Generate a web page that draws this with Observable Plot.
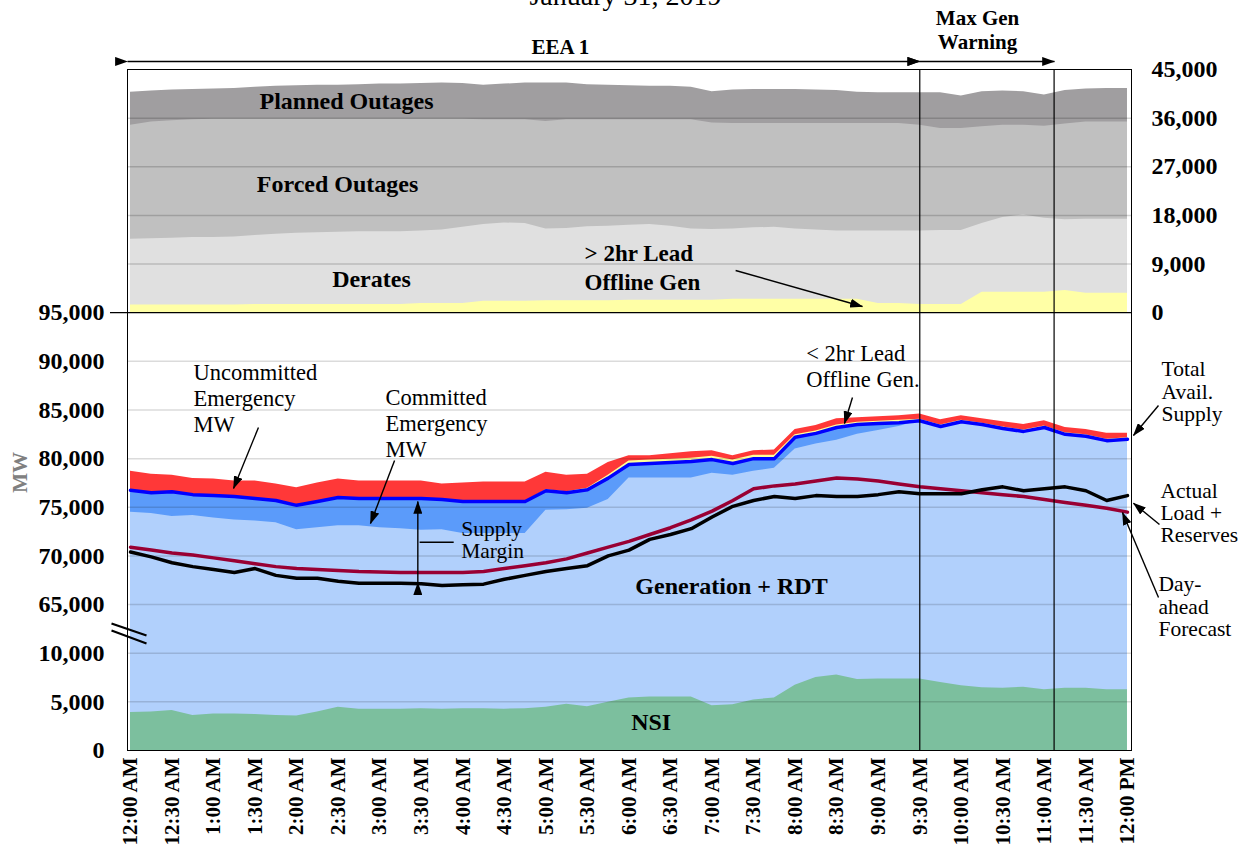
<!DOCTYPE html>
<html><head><meta charset="utf-8">
<script src="https://cdn.jsdelivr.net/npm/d3@7"></script>
<script src="https://cdn.jsdelivr.net/npm/@observablehq/plot@0.6"></script>
<style>
html,body{margin:0;padding:0;background:#fff;overflow:hidden;}
#chart svg{display:block;}
</style></head><body><div id="chart"></div>
<script>
// ---------- data (MW), 15-minute steps, Jan 31 2019, 12:00 AM – 12:00 PM ----------
const minutes = [0,15,30,45,60,75,90,105,120,135,150,165,180,195,210,225,240,255,270,285,300,315,330,345,360,375,390,405,420,435,450,465,480,495,510,525,540,555,570,585,600,615,630,645,660,675,690,705,720];
const xTickMinutes = [0,30,60,90,120,150,180,210,240,270,300,330,360,390,420,450,480,510,540,570,600,630,660,690,720];
const xTickLabels = ["12:00 AM","12:30 AM","1:00 AM","1:30 AM","2:00 AM","2:30 AM","3:00 AM","3:30 AM","4:00 AM","4:30 AM","5:00 AM","5:30 AM","6:00 AM","6:30 AM","7:00 AM","7:30 AM","8:00 AM","8:30 AM","9:00 AM","9:30 AM","10:00 AM","10:30 AM","11:00 AM","11:30 AM","12:00 PM"];
const leftTickValues = [0,5000,10000,65000,70000,75000,80000,85000,90000,95000];
const rightTickValues = [0,9000,18000,27000,36000,45000];

// lower panel
const nsi = [3900,3950,4100,3600,3750,3750,3700,3600,3550,3950,4450,4250,4250,4250,4300,4250,4300,4300,4250,4300,4450,4750,4500,4950,5400,5500,5500,5500,4600,4700,5200,5400,6700,7500,7750,7300,7350,7350,7350,7000,6650,6450,6400,6500,6250,6400,6400,6250,6250];
const genRdtTop = [74500,74350,74050,74150,73900,73700,73600,73400,72700,72900,73100,73100,72900,72800,72650,72700,72300,72300,72300,72300,74700,74750,74900,75800,78000,78000,78000,78000,78500,78300,78700,79000,81000,81500,81900,82500,82900,83300,83900,83300,83800,83500,83100,82800,83200,82500,82300,81850,82000];
const committedTop = [76750,76500,76600,76300,76200,76100,75900,75700,75200,75600,76000,75900,75900,75900,75900,75800,75600,75600,75600,75600,76700,76500,76800,78000,79400,79500,79600,79700,79900,79500,80000,80000,82200,82600,83200,83500,83600,83700,83900,83300,83800,83500,83100,82800,83200,82500,82300,81850,82000];
const lt2hrOffline = [0,0,0,0,0,0,0,0,0,0,0,0,0,0,0,0,0,0,0,0,100,100,150,300,350,350,350,350,350,350,350,350,250,250,250,250,250,250,150,150,150,150,150,150,150,150,150,150,150];
const totalAvailSupply = [78700,78400,78300,77950,77900,77700,77700,77400,77000,77500,77900,77700,77700,77700,77700,77400,77500,77600,77600,77600,78600,78300,78400,79600,80300,80300,80500,80700,80800,80300,80800,80900,83000,83400,84100,84200,84300,84400,84600,84000,84400,84100,83800,83500,83900,83200,83000,82600,82600];
const actualLoadReserves = [70400,69900,69300,68900,68600,68300,68700,68000,67700,67700,67400,67200,67200,67200,67150,66950,67050,67100,67600,68000,68400,68700,69000,70000,70600,71700,72200,72800,74000,75100,75700,76100,75900,76200,76100,76100,76300,76600,76400,76400,76400,76800,77100,76700,76900,77100,76700,75700,76200];
const dayAheadForecast = [70900,70600,70300,70100,69800,69500,69200,68900,68700,68600,68500,68400,68350,68300,68300,68300,68300,68400,68700,69000,69300,69700,70300,70900,71500,72200,72900,73700,74600,75700,76900,77200,77400,77700,78000,77900,77700,77400,77100,76900,76700,76500,76300,76100,75800,75500,75200,74900,74500];

// upper panel (cumulative levels, MW)
const offlineGt2hrTop = [1450,1450,1450,1450,1450,1450,1500,1500,1500,1500,1500,1500,1500,1500,1700,1700,1700,2100,2100,2100,2200,2200,2200,2200,2300,2300,2300,2300,2300,2500,2500,2500,2500,2500,2500,2500,1700,1700,1500,1500,1500,3800,3800,3800,3800,4100,3600,3600,3600];
const deratesTop = [13600,13700,13800,13900,13900,14000,14300,14500,14700,14800,14900,15000,15000,15000,15100,15300,15800,16300,16600,16500,15500,15600,15900,16000,16200,16300,16000,15500,15400,15500,15700,15800,15500,15300,15100,15100,15100,15100,15100,15200,15200,16500,17600,18100,17500,17200,17300,17300,17300];
const forcedTop = [34700,35300,35500,35700,35800,35800,35800,35800,35800,35800,35800,35800,35800,35800,35800,35800,35800,35700,35700,35700,35400,35700,35700,35700,35700,35700,35700,35700,35100,35000,35000,35000,35000,35000,35000,35000,35000,35000,34700,34100,34100,34400,34700,34700,34500,34900,35300,35300,35300];
const plannedTop = [40800,41000,41200,41300,41400,41500,41700,41900,42000,42100,42100,42200,42300,42300,42400,42500,42400,42100,42300,42500,42500,42500,42200,42100,42000,41900,41900,41700,40900,41200,41300,41300,41300,41200,41100,40800,40700,40700,40700,40700,40100,40900,41000,40900,40300,41100,41400,41500,41500];

// event boundaries (minutes after midnight)
const eventMinutes = [570, 667];

// ---------- broken-axis mapping into panel units ----------
const bot = v => v <= 10000 ? v / 5000 : v < 65000 ? 2 + (v - 10000) / 55000 : 3 + (v - 65000) / 5000;
const topU = v => 9 + v / 9000;
const fmt = d3.format(",");
const SERIF = "'Liberation Serif', 'Times New Roman', serif";

const rows = minutes.map((t, i) => ({
  t, nsi: nsi[i], gen: genRdtTop[i], com: committedTop[i], lt2: committedTop[i] + lt2hrOffline[i],
  tot: totalAvailSupply[i], act: actualLoadReserves[i], fc: dayAheadForecast[i],
  off: offlineGt2hrTop[i], der: deratesTop[i], forc: forcedTop[i], plan: plannedTop[i]
}));
const xTicks = xTickMinutes.map((t, i) => ({t, label: xTickLabels[i]}));

// ---------- annotations ----------
const boldNotes = [
  {t: 156, y: topU(39090), text: "Planned Outages"},
  {t: 149.5, y: topU(23730), text: "Forced Outages"},
  {t: 174, y: topU(6150), text: "Derates"},
  {t: 434, y: bot(66860), text: "Generation + RDT"},
  {t: 376, y: bot(2880), text: "NSI"}
];
const notesWide = [
  {t: 45.5, y: bot(86290), text: "Uncommitted\nEmergency\nMW"},
  {t: 184.2, y: bot(83720), text: "Committed\nEmergency\nMW"},
  {t: 488, y: bot(89580), text: "< 2hr Lead\nOffline Gen."}
];
const notesTight = [
  {t: 238.8, y: bot(71690), text: "Supply\nMargin"},
  {t: 744.6, y: bot(86900), text: "Total\nAvail.\nSupply"},
  {t: 743.8, y: bot(74390), text: "Actual\nLoad +\nReserves"},
  {t: 742.4, y: bot(62800), text: "Day-\nahead\nForecast"}
];
const singleArrows = [
  {t1: 437, y1: topU(7810), t2: 528.6, y2: topU(1150)},
  {t1: 92.4, y1: bot(83200), t2: 74.4, y2: bot(76930)},
  {t1: 190.7, y1: bot(79810), t2: 173.3, y2: bot(73330)},
  {t1: 521.4, y1: bot(86290), t2: 515.6, y2: bot(83610)},
  {t1: 742.4, y1: bot(85470), t2: 724.3, y2: bot(82380)},
  {t1: 743.1, y1: bot(73230), t2: 724.3, y2: bot(75420)},
  {t1: 742.4, y1: bot(65730), t2: 716.4, y2: bot(74460)}
];
const doubleArrows = [
  {t1: -2.17, y1: topU(46490), t2: 570, y2: topU(46490)},
  {t1: 570, y1: topU(46490), t2: 667.3, y2: topU(46490)},
  {t1: 207.5, y1: bot(67250), t2: 207.5, y2: bot(75600)}
];
const plainLinks = [
  {t1: 208.8, y1: bot(71410), t2: 233.4, y2: bot(71410)}
];
const breakMarks = [
  {t1: -13.72, y1: bot(43600), t2: 11.55, y2: bot(30000)},
  {t1: -13.72, y1: bot(35700), t2: 11.55, y2: bot(21000)}
];

const gridBottom = [5000,10000,65000,70000,75000,80000,85000,90000];
const gridTop = [9000,18000,27000,36000];

const svg = Plot.plot({
  width: 1249, height: 857,
  marginLeft: 127, marginRight: 118, marginTop: 69, marginBottom: 107,
  x: {domain: [-2.17, 722.9], axis: null},
  y: {domain: [0, 14], axis: null},
  style: {fontFamily: SERIF, background: "#fff", color: "#000"},
  marks: [
    // upper panel areas
    Plot.areaY(rows, {x: "t", y1: 9, y2: d => topU(d.plan), fill: "#a09ea0"}),
    Plot.areaY(rows, {x: "t", y1: 9, y2: d => topU(d.forc), fill: "#c0c0c0"}),
    Plot.areaY(rows, {x: "t", y1: 9, y2: d => topU(d.der), fill: "#e0e0e0"}),
    Plot.areaY(rows, {x: "t", y1: 9, y2: d => topU(d.off), fill: "#ffffa6"}),
    // lower panel areas
    Plot.areaY(rows, {x: "t", y1: 0, y2: d => bot(d.tot), fill: "#ff3838"}),
    Plot.areaY(rows, {x: "t", y1: 0, y2: d => bot(d.lt2), fill: "#ffff99"}),
    Plot.areaY(rows, {x: "t", y1: 0, y2: d => bot(d.com), fill: "#5b9bfa"}),
    Plot.areaY(rows, {x: "t", y1: 0, y2: d => bot(d.gen), fill: "#b1d0fc"}),
    Plot.areaY(rows, {x: "t", y1: 0, y2: d => bot(d.nsi), fill: "#7cbf9e"}),
    // grid
    Plot.ruleY(gridBottom.map(bot), {stroke: "#000", strokeOpacity: 0.14, strokeWidth: 1.5}),
    Plot.ruleY(gridTop.map(topU), {stroke: "#000", strokeOpacity: 0.17, strokeWidth: 1.5}),
    // lines
    Plot.line(rows, {x: "t", y: d => bot(d.com), stroke: "#0000ff", strokeWidth: 3.5}),
    Plot.line(rows, {x: "t", y: d => bot(d.fc), stroke: "#990033", strokeWidth: 3.5}),
    Plot.line(rows, {x: "t", y: d => bot(d.act), stroke: "#000", strokeWidth: 3.5}),
    // frame, separator, event lines
    Plot.frame({stroke: "#000", strokeWidth: 1}),
    Plot.ruleY([9], {x1: -14.45, x2: 722.9, stroke: "#000", strokeWidth: 1.2}),
    Plot.ruleX(eventMinutes, {y1: 0, y2: 14, stroke: "#000", strokeWidth: 1.2}),
    Plot.link(breakMarks, {x1: "t1", y1: "y1", x2: "t2", y2: "y2", stroke: "#000", strokeWidth: 2.2}),
    // arrows
    Plot.link(singleArrows, {x1: "t1", y1: "y1", x2: "t2", y2: "y2", stroke: "#000", strokeWidth: 1.4, markerEnd: "arrow"}),
    Plot.link(doubleArrows, {x1: "t1", y1: "y1", x2: "t2", y2: "y2", stroke: "#000", strokeWidth: 1.4, markerStart: "arrow", markerEnd: "arrow"}),
    Plot.link(plainLinks, {x1: "t1", y1: "y1", x2: "t2", y2: "y2", stroke: "#000", strokeWidth: 1.4}),
    // axes (text)
    Plot.text(leftTickValues, {y: d => bot(d), text: d => fmt(d), frameAnchor: "left", dx: -23, textAnchor: "end", lineAnchor: "middle", fontSize: 24, fontWeight: "bold", fontFamily: SERIF}),
    Plot.text(rightTickValues, {y: d => topU(d), text: d => fmt(d), frameAnchor: "right", dx: 20, textAnchor: "start", lineAnchor: "middle", fontSize: 24, fontWeight: "bold", fontFamily: SERIF}),
    Plot.text(xTicks, {x: "t", text: "label", frameAnchor: "bottom", dy: 7, rotate: -90, textAnchor: "end", lineAnchor: "middle", fontSize: 21, fontWeight: "bold", fontFamily: SERIF}),
    Plot.text(["MW"], {text: d => d, y: bot(78580), frameAnchor: "left", dx: -107, rotate: -90, textAnchor: "middle", lineAnchor: "middle", fontSize: 21, fontWeight: "bold", fill: "#808080", fontFamily: SERIF}),
    Plot.text(["January 31, 2019"], {text: d => d, frameAnchor: "top", dx: -4, dy: -65, lineAnchor: "bottom", fontSize: 28, fontFamily: SERIF}),
    Plot.text(["EEA 1"], {text: d => d, x: 310.5, y: topU(49050), textAnchor: "middle", lineAnchor: "middle", fontSize: 21, fontWeight: "bold", fontFamily: SERIF}),
    Plot.text(["Max Gen\nWarning"], {text: d => d, x: 611.7, y: topU(52410), textAnchor: "middle", lineAnchor: "middle", lineHeight: 1.14, fontSize: 21, fontWeight: "bold", fontFamily: SERIF}),
    // labels
    Plot.text(boldNotes, {x: "t", y: "y", text: "text", textAnchor: "middle", lineAnchor: "middle", fontSize: 24, fontWeight: "bold", fontFamily: SERIF}),
    Plot.text(["> 2hr Lead\nOffline Gen"], {text: d => d, x: 327.9, y: topU(8550), textAnchor: "start", lineAnchor: "middle", lineHeight: 1.22, fontSize: 23, fontWeight: "bold", fontFamily: SERIF}),
    Plot.text(notesWide, {x: "t", y: "y", text: "text", textAnchor: "start", lineAnchor: "middle", lineHeight: 1.17, fontSize: 22.5, fontFamily: SERIF}),
    Plot.text(notesTight, {x: "t", y: "y", text: "text", textAnchor: "start", lineAnchor: "middle", lineHeight: 1.03, fontSize: 21.5, fontFamily: SERIF})
  ]
});
document.getElementById("chart").append(svg);

// turn Plot's open arrow markers into filled arrowheads
d3.select(svg).selectAll("marker").each(function () {
  const m = d3.select(this);
  m.attr("viewBox", "0 0 10 10").attr("refX", 9.5).attr("refY", 5)
   .attr("markerWidth", 13).attr("markerHeight", 9).attr("markerUnits", "userSpaceOnUse")
   .attr("preserveAspectRatio", "none").attr("fill", "#000").attr("stroke", "none");
  m.selectAll("*").remove();
  m.append("path").attr("d", "M0,0L10,5L0,10Z").attr("fill", "#000").attr("stroke", "none");
});
</script></body></html>
